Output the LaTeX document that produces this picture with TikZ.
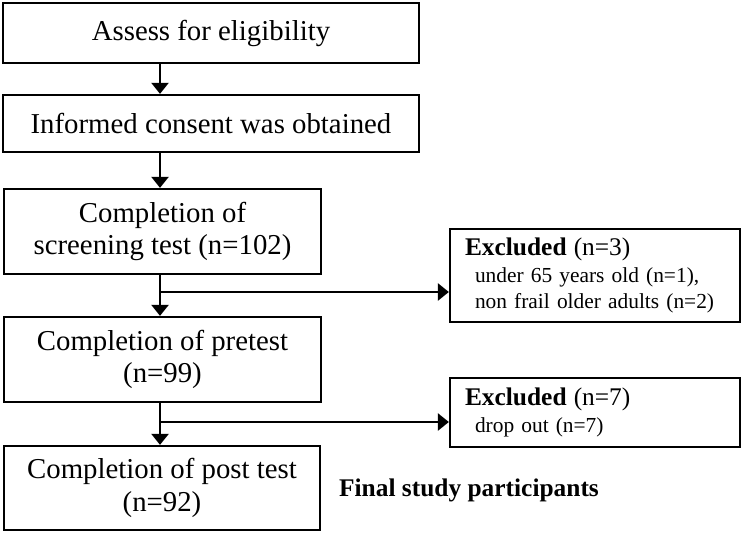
\documentclass[tikz,border=0pt]{standalone}
\usepackage{fontspec}
\setmainfont{Liberation Serif}
\usetikzlibrary{arrows.meta}

\begin{document}
\begin{tikzpicture}[x=0.5pt,y=-0.5pt,
  stage/.style={draw,line width=1.1pt,align=center,inner sep=0pt,font=\fontsize{14.4}{16.2}\selectfont},
  excl/.style={draw,line width=1.1pt,inner xsep=7.5pt,inner ysep=0pt,text width=130pt,align=left,font=\fontsize{10.7}{13.2}\selectfont},
  arr/.style={line width=1.1pt,-{Triangle[width=8.5pt,length=5.5pt]}}]
  \useasboundingbox (0,0) rectangle (744,534);
  % main flow
  \node[stage,minimum width=208pt,minimum height=30pt] (assess) at (211,33) {Assess for eligibility};
  \node[stage,minimum width=208pt,minimum height=28.5pt] (consent) at (211,123.5) {Informed consent was obtained};
  \node[stage,minimum width=158.5pt,minimum height=42.5pt] (screen) at (162.5,231.5) {Completion of\\screening test (n=102)};
  \node[stage,minimum width=158.5pt,minimum height=42.5pt] (pre) at (162.5,359.5) {Completion of pretest\\(n=99)};
  \node[stage,minimum width=158pt,minimum height=42pt] (post) at (162,488) {Completion of post test\\(n=92)};
  % exclusions
  \node[excl,minimum height=46.5pt] (ex1) at (595,275.5) {{\fontsize{12.7}{13.2}\selectfont\textbf{Excluded} (n=3)}\\
    \hspace*{5pt}under 65 years old (n=1),\\
    \hspace*{5pt}non frail older adults (n=2)};
  \node[excl,minimum height=34.5pt] (ex2) at (595,412.5) {{\fontsize{12.7}{13.2}\selectfont\textbf{Excluded} (n=7)}\\
    \hspace*{5pt}drop out (n=7)};
  \node[font=\bfseries\fontsize{12.7}{14}\selectfont] (final) at (469,490) {Final study participants};
  % arrows
  \coordinate (spine) at (160,0);
  \coordinate (b1) at (160,292);
  \coordinate (b2) at (160,422);
  \draw[arr] (assess.south -| spine) -- (consent.north -| spine);
  \draw[arr] (consent.south -| spine) -- (screen.north -| spine);
  \draw[arr] (screen.south -| spine) -- (pre.north -| spine);
  \draw[arr] (pre.south -| spine) -- (post.north -| spine);
  \draw[arr] (b1) -- (b1 -| ex1.west);
  \draw[arr] (b2) -- (b2 -| ex2.west);
\end{tikzpicture}
\end{document}
